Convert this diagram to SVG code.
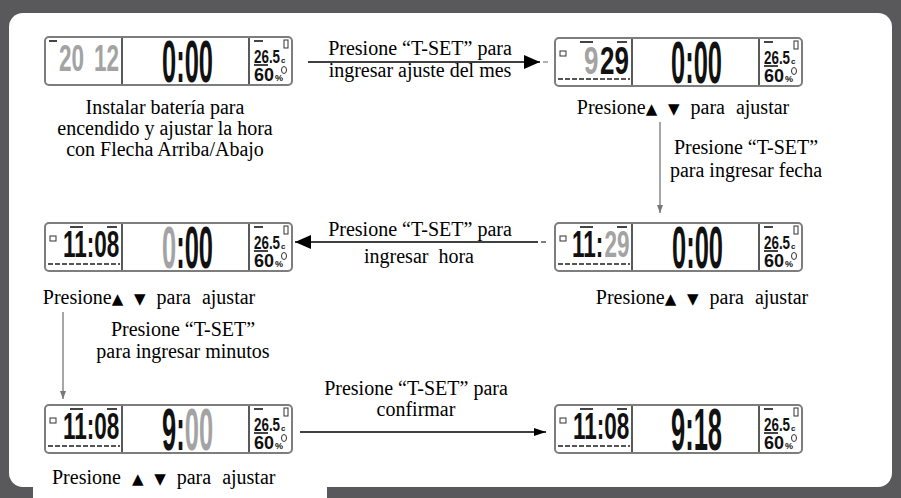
<svg xmlns="http://www.w3.org/2000/svg" xmlns:xlink="http://www.w3.org/1999/xlink" width="901" height="498" viewBox="0 0 901 498">
<style>
.t{font-family:"Liberation Serif","DejaVu Serif",serif;font-size:20px;fill:#000;white-space:pre}
.m{text-anchor:middle}
.cap{word-spacing:6px}
.tri{font-family:"DejaVu Sans",sans-serif;font-size:15px}
.sg{font-family:"Liberation Sans","DejaVu Sans",sans-serif;font-weight:bold}
.mid{font-size:25.5px}
.lft{font-size:22.5px}
.k{fill:#111}
.g{fill:#a3a3a3}
.lcd{fill:#fff;stroke:#7d7d7d;stroke-width:2}
.dv{stroke:#222;stroke-width:1.5}
.tiny{fill:#444}
.days{stroke:#555;stroke-width:2;stroke-dasharray:5 2}
.ic{fill:none;stroke:#333;stroke-width:1}
.cn{fill:none;stroke:#000;stroke-width:1.5}
.cg{fill:none;stroke:#777;stroke-width:1.3}
</style>
<defs>
<marker id="ahL" markerUnits="userSpaceOnUse" markerWidth="16" markerHeight="14" refX="16" refY="7" orient="auto"><path d="M0,0 L16,7 L0,14 z" fill="#000"/></marker>
<marker id="ahS" markerUnits="userSpaceOnUse" markerWidth="12" markerHeight="8" refX="12" refY="4" orient="auto"><path d="M0,0 L12,4 L0,8 z" fill="#000"/></marker>
<marker id="ahG" markerUnits="userSpaceOnUse" markerWidth="8" markerHeight="6" refX="8" refY="3" orient="auto"><path d="M0,0 L8,3 L0,6 z" fill="#777"/></marker>
<g id="frame">
<rect class="lcd" x="0" y="0" width="247" height="48" rx="4"/>
<line class="dv" x1="77" y1="1" x2="77" y2="47"/>
<line class="dv" x1="204" y1="1" x2="204" y2="47"/>
<rect class="tiny" x="209" y="3" width="9" height="2"/>
<text class="sg k" font-size="13.4" transform="translate(209,26) scale(1,1.36)">26.5</text>
<text class="sg k" x="236" y="26" font-size="8">c</text>
<rect class="ic" x="239" y="3" width="4" height="8"/>
<rect class="tiny" x="209" y="27" width="14" height="2"/>
<text class="sg k" font-size="18" transform="translate(209,44) scale(1,1.05)">60</text>
<text class="sg k" x="230" y="44" font-size="9">%</text>
<ellipse class="ic" cx="239" cy="33" rx="2.5" ry="3.5"/>
</g>
<g id="cal">
<rect class="ic" x="5" y="13" width="6" height="5"/>
<rect class="tiny" x="25" y="3" width="13" height="2"/>
<rect class="tiny" x="62" y="3" width="10" height="2"/>
<line class="days" x1="3" y1="41" x2="75" y2="41"/>
</g>
</defs>
<rect x="0" y="0" width="901" height="498" fill="#59595b"/>
<rect x="9" y="13" width="883" height="474" rx="14" fill="#fff"/>
<rect x="33" y="470" width="294" height="28" fill="#fff"/>

<g id="lcd1" transform="translate(45,37)">
<use xlink:href="#frame"/>
<rect class="tiny" x="4" y="3" width="8" height="2"/>
<g transform="translate(0,34) scale(1,1.62)">
<text class="sg lft g" x="14">20</text>
<text class="sg lft g" x="49">12</text>
</g>
<text class="sg mid k" transform="translate(117,45) scale(1,2.3)">0:00</text>
</g>
<g id="lcd2" transform="translate(555,38)">
<use xlink:href="#frame"/>
<use xlink:href="#cal"/>
<g transform="translate(0,36) scale(1,1.5)">
<text class="sg g" font-size="26" x="29">9</text>
<text class="sg k" font-size="26" x="45">29</text>
</g>
<text class="sg mid k" transform="translate(116,45) scale(1,2.3)">0:00</text>
</g>
<g id="lcd3" transform="translate(45,223)">
<use xlink:href="#frame"/>
<use xlink:href="#cal"/>
<text class="sg lft k" transform="translate(18,34) scale(1,1.62)">11:08</text>
<g transform="translate(117,45) scale(1,2.3)">
<text class="sg mid g" x="0">0</text>
<text class="sg mid k" x="14.2">:00</text>
</g>
</g>
<g id="lcd4" transform="translate(555,223)">
<use xlink:href="#frame"/>
<use xlink:href="#cal"/>
<g transform="translate(0,34) scale(1,1.62)">
<text class="sg lft k" x="17">11:</text>
<text class="sg lft g" x="49.5">29</text>
</g>
<text class="sg mid k" transform="translate(117,45) scale(1,2.3)">0:00</text>
</g>
<g id="lcd5" transform="translate(45,405)">
<use xlink:href="#frame"/>
<use xlink:href="#cal"/>
<text class="sg lft k" transform="translate(18,34) scale(1,1.62)">11:08</text>
<g transform="translate(117,45) scale(1,2.3)">
<text class="sg mid k" x="0">9:</text>
<text class="sg mid g" x="22.7">00</text>
</g>
</g>
<g id="lcd6" transform="translate(555,405)">
<use xlink:href="#frame"/>
<use xlink:href="#cal"/>
<text class="sg lft k" transform="translate(18,34) scale(1,1.62)">11:08</text>
<text class="sg mid k" transform="translate(116,45) scale(1,2.3)">9:18</text>
</g>

<g id="connectors">
<line class="cn" x1="308" y1="62" x2="540" y2="62" marker-end="url(#ahL)"/>
<line x1="543" y1="62" x2="548" y2="62" stroke="#999" stroke-width="1.5"/>
<line class="cg" x1="660" y1="122" x2="660" y2="213" marker-end="url(#ahG)"/>
<line class="cn" x1="538" y1="242" x2="295" y2="242" marker-end="url(#ahL)"/>
<line x1="541" y1="242" x2="546" y2="242" stroke="#555" stroke-width="1.5"/>
<line class="cg" x1="63" y1="312" x2="63" y2="399" marker-end="url(#ahG)"/>
<line class="cn" x1="300" y1="432" x2="546" y2="432" stroke-width="1.2" marker-end="url(#ahS)"/>
</g>

<g id="labels">
<text class="t m" x="420" y="55">Presione “T-SET” para</text>
<text class="t m" x="420" y="77">ingresar ajuste del mes</text>
<text class="t m" x="165" y="114">Instalar batería para</text>
<text class="t m" x="165" y="135">encendido y ajustar la hora</text>
<text class="t m" x="165" y="156">con Flecha Arriba/Abajo</text>
<text class="t m cap" x="683" y="114">Presione<tspan class="tri">▲ ▼</tspan> para ajustar</text>
<text class="t m" x="746" y="154">Presione “T-SET”</text>
<text class="t m" x="746" y="177">para ingresar fecha</text>
<text class="t m" x="420" y="236">Presione “T-SET” para</text>
<text class="t m" x="419" y="263">ingresar  hora</text>
<text class="t m cap" x="149" y="304">Presione<tspan class="tri">▲ ▼</tspan> para ajustar</text>
<text class="t m cap" x="702" y="304">Presione<tspan class="tri">▲ ▼</tspan> para ajustar</text>
<text class="t m" x="183" y="336">Presione “T-SET”</text>
<text class="t m" x="183" y="358">para ingresar minutos</text>
<text class="t m" x="416" y="395">Presione “T-SET” para</text>
<text class="t m" x="416" y="416">confirmar</text>
<text class="t cap" x="52" y="484">Presione <tspan class="tri">▲ ▼</tspan> para ajustar</text>
</g>
</svg>
